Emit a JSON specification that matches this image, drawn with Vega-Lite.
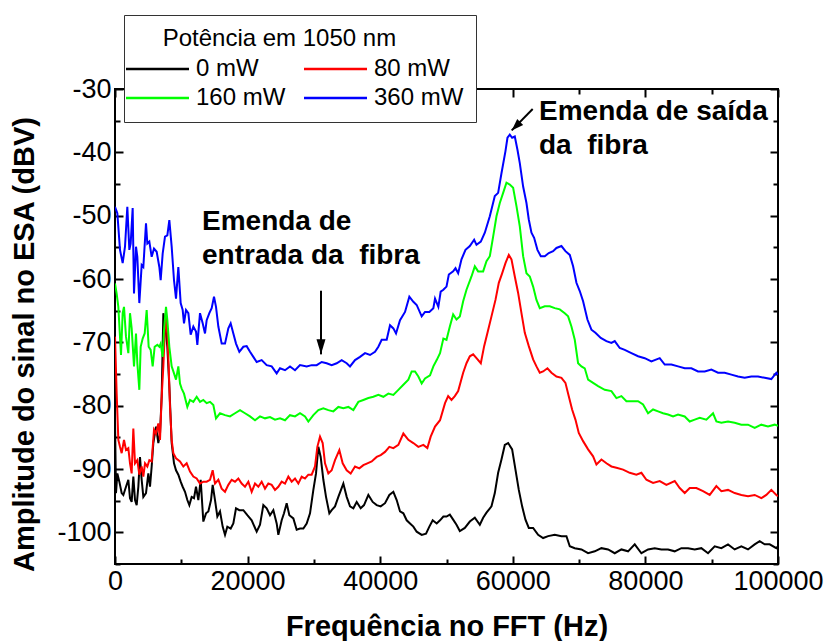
{
  "$schema": "https://vega.github.io/schema/vega-lite/v6.json",
  "width": 663,
  "height": 475,
  "autosize": {"type": "none"},
  "padding": {"left": 115, "top": 89, "right": 47, "bottom": 77},
  "background": "white",
  "config": {
    "font": "Liberation Sans",
    "view": {"stroke": "black", "strokeWidth": 2},
    "axis": {
      "domain": false, "grid": false, "tickColor": "black", "tickWidth": 2,
      "labelColor": "black", "labelFontSize": 27, "labelFont": "Liberation Sans",
      "titleFont": "Liberation Sans", "titleFontSize": 29, "titleFontWeight": "bold", "titleColor": "black",
      "labelFlush": false, "labelOverlap": false, "labelBound": false
    },
    "legend": {
      "labelFont": "Liberation Sans", "titleFont": "Liberation Sans",
      "labelFontSize": 24, "titleFontSize": 24, "titleFontWeight": "normal",
      "titleColor": "black", "labelColor": "black", "titleLimit": 1000, "labelLimit": 300
    }
  },
  "datasets": {
    "series": [
      {"s":"0 mW","f":0,"v":-82.3},{"s":"0 mW","f":151,"v":-93.8},{"s":"0 mW","f":352,"v":-90.7},{"s":"0 mW","f":654,"v":-92.0},{"s":"0 mW","f":1006,"v":-93.8},{"s":"0 mW","f":1257,"v":-94.1},{"s":"0 mW","f":1659,"v":-92.8},{"s":"0 mW","f":2011,"v":-91.7},{"s":"0 mW","f":2263,"v":-94.6},{"s":"0 mW","f":2514,"v":-95.2},{"s":"0 mW","f":2765,"v":-91.2},{"s":"0 mW","f":3017,"v":-94.9},{"s":"0 mW","f":3268,"v":-95.7},{"s":"0 mW","f":3520,"v":-92.8},{"s":"0 mW","f":3771,"v":-88.1},{"s":"0 mW","f":4022,"v":-91.7},{"s":"0 mW","f":4274,"v":-94.4},{"s":"0 mW","f":4676,"v":-93.8},{"s":"0 mW","f":5028,"v":-90.7},{"s":"0 mW","f":5279,"v":-92.8},{"s":"0 mW","f":5531,"v":-89.6},{"s":"0 mW","f":5782,"v":-85.9},{"s":"0 mW","f":6184,"v":-83.3},{"s":"0 mW","f":6536,"v":-85.9},{"s":"0 mW","f":6788,"v":-84.4},{"s":"0 mW","f":7039,"v":-78.6},{"s":"0 mW","f":7291,"v":-65.4},{"s":"0 mW","f":7542,"v":-67.0},{"s":"0 mW","f":7894,"v":-70.7},{"s":"0 mW","f":8196,"v":-77.0},{"s":"0 mW","f":8548,"v":-85.9},{"s":"0 mW","f":8900,"v":-89.1},{"s":"0 mW","f":9201,"v":-90.2},{"s":"0 mW","f":9553,"v":-90.9},{"s":"0 mW","f":9905,"v":-92.0},{"s":"0 mW","f":10207,"v":-92.8},{"s":"0 mW","f":10559,"v":-93.6},{"s":"0 mW","f":10911,"v":-94.9},{"s":"0 mW","f":11212,"v":-95.7},{"s":"0 mW","f":11564,"v":-94.4},{"s":"0 mW","f":11916,"v":-94.6},{"s":"0 mW","f":12218,"v":-92.8},{"s":"0 mW","f":12570,"v":-94.9},{"s":"0 mW","f":12922,"v":-91.7},{"s":"0 mW","f":13324,"v":-98.3},{"s":"0 mW","f":13726,"v":-97.0},{"s":"0 mW","f":14078,"v":-96.7},{"s":"0 mW","f":14481,"v":-94.9},{"s":"0 mW","f":14732,"v":-92.5},{"s":"0 mW","f":15084,"v":-94.9},{"s":"0 mW","f":15436,"v":-97.5},{"s":"0 mW","f":15838,"v":-96.7},{"s":"0 mW","f":16240,"v":-99.1},{"s":"0 mW","f":16592,"v":-100.4},{"s":"0 mW","f":16944,"v":-99.1},{"s":"0 mW","f":17447,"v":-99.4},{"s":"0 mW","f":17849,"v":-98.6},{"s":"0 mW","f":18252,"v":-96.2},{"s":"0 mW","f":18754,"v":-96.5},{"s":"0 mW","f":19358,"v":-96.5},{"s":"0 mW","f":19961,"v":-97.3},{"s":"0 mW","f":20615,"v":-98.1},{"s":"0 mW","f":21369,"v":-99.9},{"s":"0 mW","f":21872,"v":-98.8},{"s":"0 mW","f":22375,"v":-95.7},{"s":"0 mW","f":22877,"v":-96.2},{"s":"0 mW","f":23380,"v":-97.3},{"s":"0 mW","f":23883,"v":-96.5},{"s":"0 mW","f":24386,"v":-98.6},{"s":"0 mW","f":24637,"v":-100.4},{"s":"0 mW","f":25140,"v":-98.1},{"s":"0 mW","f":25492,"v":-97.0},{"s":"0 mW","f":25894,"v":-95.4},{"s":"0 mW","f":26296,"v":-97.3},{"s":"0 mW","f":26900,"v":-97.8},{"s":"0 mW","f":27403,"v":-99.6},{"s":"0 mW","f":27905,"v":-99.4},{"s":"0 mW","f":28408,"v":-99.4},{"s":"0 mW","f":28911,"v":-98.6},{"s":"0 mW","f":29414,"v":-97.0},{"s":"0 mW","f":29917,"v":-93.3},{"s":"0 mW","f":30319,"v":-90.7},{"s":"0 mW","f":30671,"v":-86.5},{"s":"0 mW","f":31023,"v":-88.1},{"s":"0 mW","f":31425,"v":-91.7},{"s":"0 mW","f":31827,"v":-94.4},{"s":"0 mW","f":32330,"v":-97.0},{"s":"0 mW","f":32682,"v":-96.5},{"s":"0 mW","f":33185,"v":-95.9},{"s":"0 mW","f":33688,"v":-94.4},{"s":"0 mW","f":34442,"v":-92.3},{"s":"0 mW","f":34945,"v":-94.4},{"s":"0 mW","f":35447,"v":-95.9},{"s":"0 mW","f":35950,"v":-96.2},{"s":"0 mW","f":36453,"v":-95.2},{"s":"0 mW","f":37056,"v":-96.2},{"s":"0 mW","f":37559,"v":-95.7},{"s":"0 mW","f":38213,"v":-94.1},{"s":"0 mW","f":38867,"v":-95.2},{"s":"0 mW","f":39470,"v":-95.7},{"s":"0 mW","f":40073,"v":-95.9},{"s":"0 mW","f":40727,"v":-95.4},{"s":"0 mW","f":41380,"v":-94.1},{"s":"0 mW","f":41984,"v":-93.6},{"s":"0 mW","f":42487,"v":-94.9},{"s":"0 mW","f":42989,"v":-96.7},{"s":"0 mW","f":43492,"v":-97.0},{"s":"0 mW","f":43995,"v":-98.1},{"s":"0 mW","f":44498,"v":-98.6},{"s":"0 mW","f":45001,"v":-99.1},{"s":"0 mW","f":45503,"v":-99.9},{"s":"0 mW","f":46258,"v":-100.4},{"s":"0 mW","f":46911,"v":-100.2},{"s":"0 mW","f":47414,"v":-99.1},{"s":"0 mW","f":47917,"v":-98.1},{"s":"0 mW","f":48520,"v":-98.6},{"s":"0 mW","f":49023,"v":-98.1},{"s":"0 mW","f":49526,"v":-97.5},{"s":"0 mW","f":50000,"v":-97.5},{"s":"0 mW","f":50503,"v":-97.2},{"s":"0 mW","f":51005,"v":-98.0},{"s":"0 mW","f":51508,"v":-98.8},{"s":"0 mW","f":52010,"v":-99.8},{"s":"0 mW","f":52764,"v":-99.3},{"s":"0 mW","f":53518,"v":-98.3},{"s":"0 mW","f":54271,"v":-97.7},{"s":"0 mW","f":55025,"v":-98.8},{"s":"0 mW","f":55528,"v":-97.7},{"s":"0 mW","f":56030,"v":-96.9},{"s":"0 mW","f":56784,"v":-95.9},{"s":"0 mW","f":57286,"v":-93.8},{"s":"0 mW","f":57789,"v":-90.6},{"s":"0 mW","f":58291,"v":-88.5},{"s":"0 mW","f":58794,"v":-86.2},{"s":"0 mW","f":59296,"v":-85.9},{"s":"0 mW","f":59899,"v":-86.9},{"s":"0 mW","f":60402,"v":-90.1},{"s":"0 mW","f":60904,"v":-93.3},{"s":"0 mW","f":61407,"v":-95.9},{"s":"0 mW","f":61910,"v":-98.0},{"s":"0 mW","f":62412,"v":-99.3},{"s":"0 mW","f":63065,"v":-99.3},{"s":"0 mW","f":63819,"v":-100.4},{"s":"0 mW","f":64573,"v":-100.9},{"s":"0 mW","f":65327,"v":-100.6},{"s":"0 mW","f":66331,"v":-100.4},{"s":"0 mW","f":67337,"v":-100.6},{"s":"0 mW","f":68090,"v":-100.6},{"s":"0 mW","f":68593,"v":-102.2},{"s":"0 mW","f":69346,"v":-102.5},{"s":"0 mW","f":70351,"v":-102.7},{"s":"0 mW","f":71356,"v":-103.3},{"s":"0 mW","f":72362,"v":-103.0},{"s":"0 mW","f":73367,"v":-102.5},{"s":"0 mW","f":74372,"v":-102.7},{"s":"0 mW","f":75377,"v":-103.3},{"s":"0 mW","f":76382,"v":-102.7},{"s":"0 mW","f":77387,"v":-103.0},{"s":"0 mW","f":78391,"v":-101.9},{"s":"0 mW","f":79396,"v":-103.3},{"s":"0 mW","f":80401,"v":-102.7},{"s":"0 mW","f":81406,"v":-102.5},{"s":"0 mW","f":82411,"v":-102.7},{"s":"0 mW","f":83416,"v":-102.7},{"s":"0 mW","f":84421,"v":-103.0},{"s":"0 mW","f":85426,"v":-102.5},{"s":"0 mW","f":86431,"v":-102.5},{"s":"0 mW","f":87436,"v":-102.7},{"s":"0 mW","f":88441,"v":-102.5},{"s":"0 mW","f":89446,"v":-103.3},{"s":"0 mW","f":90451,"v":-102.2},{"s":"0 mW","f":91456,"v":-102.5},{"s":"0 mW","f":92461,"v":-101.9},{"s":"0 mW","f":93466,"v":-102.7},{"s":"0 mW","f":94471,"v":-102.2},{"s":"0 mW","f":95476,"v":-102.7},{"s":"0 mW","f":96481,"v":-101.9},{"s":"0 mW","f":97235,"v":-101.4},{"s":"0 mW","f":97990,"v":-101.9},{"s":"0 mW","f":98744,"v":-101.9},{"s":"0 mW","f":99749,"v":-102.5},{"s":"0 mW","f":100000,"v":-102.2},
      {"s":"80 mW","f":0,"v":-69.1},{"s":"80 mW","f":251,"v":-78.1},{"s":"80 mW","f":503,"v":-85.4},{"s":"80 mW","f":754,"v":-86.5},{"s":"80 mW","f":1006,"v":-87.5},{"s":"80 mW","f":1358,"v":-85.4},{"s":"80 mW","f":1659,"v":-87.0},{"s":"80 mW","f":2011,"v":-86.7},{"s":"80 mW","f":2263,"v":-89.1},{"s":"80 mW","f":2514,"v":-90.7},{"s":"80 mW","f":2765,"v":-83.6},{"s":"80 mW","f":3017,"v":-89.1},{"s":"80 mW","f":3369,"v":-88.6},{"s":"80 mW","f":3670,"v":-90.9},{"s":"80 mW","f":4022,"v":-89.6},{"s":"80 mW","f":4274,"v":-91.2},{"s":"80 mW","f":4525,"v":-89.1},{"s":"80 mW","f":4877,"v":-89.6},{"s":"80 mW","f":5179,"v":-88.6},{"s":"80 mW","f":5531,"v":-88.8},{"s":"80 mW","f":5883,"v":-83.8},{"s":"80 mW","f":6184,"v":-84.4},{"s":"80 mW","f":6536,"v":-82.8},{"s":"80 mW","f":6788,"v":-85.4},{"s":"80 mW","f":7039,"v":-78.6},{"s":"80 mW","f":7291,"v":-73.8},{"s":"80 mW","f":7542,"v":-67.5},{"s":"80 mW","f":7693,"v":-65.9},{"s":"80 mW","f":7894,"v":-68.6},{"s":"80 mW","f":8095,"v":-73.8},{"s":"80 mW","f":8296,"v":-80.2},{"s":"80 mW","f":8548,"v":-85.4},{"s":"80 mW","f":8799,"v":-87.5},{"s":"80 mW","f":9201,"v":-88.3},{"s":"80 mW","f":9805,"v":-88.8},{"s":"80 mW","f":10308,"v":-89.6},{"s":"80 mW","f":10811,"v":-89.1},{"s":"80 mW","f":11313,"v":-90.4},{"s":"80 mW","f":11816,"v":-91.2},{"s":"80 mW","f":12319,"v":-91.5},{"s":"80 mW","f":12821,"v":-92.3},{"s":"80 mW","f":13324,"v":-92.0},{"s":"80 mW","f":13827,"v":-92.0},{"s":"80 mW","f":14330,"v":-91.7},{"s":"80 mW","f":14732,"v":-90.2},{"s":"80 mW","f":15084,"v":-92.3},{"s":"80 mW","f":15587,"v":-91.7},{"s":"80 mW","f":16090,"v":-93.1},{"s":"80 mW","f":16592,"v":-93.6},{"s":"80 mW","f":17095,"v":-92.5},{"s":"80 mW","f":17598,"v":-91.7},{"s":"80 mW","f":18101,"v":-92.0},{"s":"80 mW","f":18604,"v":-91.5},{"s":"80 mW","f":19106,"v":-92.3},{"s":"80 mW","f":19609,"v":-92.8},{"s":"80 mW","f":20112,"v":-92.0},{"s":"80 mW","f":20615,"v":-93.6},{"s":"80 mW","f":21118,"v":-92.3},{"s":"80 mW","f":21620,"v":-92.8},{"s":"80 mW","f":22123,"v":-92.0},{"s":"80 mW","f":22626,"v":-93.1},{"s":"80 mW","f":23129,"v":-92.3},{"s":"80 mW","f":23632,"v":-92.5},{"s":"80 mW","f":24134,"v":-93.3},{"s":"80 mW","f":24637,"v":-92.8},{"s":"80 mW","f":25140,"v":-92.0},{"s":"80 mW","f":25643,"v":-92.3},{"s":"80 mW","f":26146,"v":-91.2},{"s":"80 mW","f":26648,"v":-92.0},{"s":"80 mW","f":27151,"v":-91.5},{"s":"80 mW","f":27654,"v":-92.3},{"s":"80 mW","f":28157,"v":-91.2},{"s":"80 mW","f":28660,"v":-91.5},{"s":"80 mW","f":29162,"v":-90.9},{"s":"80 mW","f":29665,"v":-90.9},{"s":"80 mW","f":30168,"v":-89.6},{"s":"80 mW","f":30520,"v":-86.5},{"s":"80 mW","f":30922,"v":-84.9},{"s":"80 mW","f":31324,"v":-85.9},{"s":"80 mW","f":31676,"v":-89.1},{"s":"80 mW","f":32179,"v":-90.7},{"s":"80 mW","f":32682,"v":-90.2},{"s":"80 mW","f":33185,"v":-88.6},{"s":"80 mW","f":33838,"v":-87.0},{"s":"80 mW","f":34341,"v":-89.1},{"s":"80 mW","f":34945,"v":-90.2},{"s":"80 mW","f":35548,"v":-90.7},{"s":"80 mW","f":36202,"v":-89.6},{"s":"80 mW","f":36855,"v":-89.9},{"s":"80 mW","f":37459,"v":-89.4},{"s":"80 mW","f":38062,"v":-89.1},{"s":"80 mW","f":38716,"v":-88.8},{"s":"80 mW","f":39470,"v":-88.1},{"s":"80 mW","f":40073,"v":-87.8},{"s":"80 mW","f":40727,"v":-87.3},{"s":"80 mW","f":41380,"v":-86.5},{"s":"80 mW","f":41984,"v":-86.7},{"s":"80 mW","f":42738,"v":-86.2},{"s":"80 mW","f":43492,"v":-84.4},{"s":"80 mW","f":44246,"v":-85.4},{"s":"80 mW","f":45001,"v":-85.9},{"s":"80 mW","f":45755,"v":-86.5},{"s":"80 mW","f":46509,"v":-86.2},{"s":"80 mW","f":47112,"v":-86.7},{"s":"80 mW","f":47615,"v":-84.9},{"s":"80 mW","f":48269,"v":-83.3},{"s":"80 mW","f":49023,"v":-82.3},{"s":"80 mW","f":49777,"v":-79.6},{"s":"80 mW","f":50251,"v":-78.5},{"s":"80 mW","f":50754,"v":-79.1},{"s":"80 mW","f":51256,"v":-78.5},{"s":"80 mW","f":51759,"v":-77.7},{"s":"80 mW","f":52513,"v":-74.8},{"s":"80 mW","f":53015,"v":-73.3},{"s":"80 mW","f":53518,"v":-72.2},{"s":"80 mW","f":54020,"v":-71.9},{"s":"80 mW","f":54523,"v":-72.5},{"s":"80 mW","f":55176,"v":-73.3},{"s":"80 mW","f":55678,"v":-70.6},{"s":"80 mW","f":56181,"v":-68.5},{"s":"80 mW","f":56784,"v":-65.9},{"s":"80 mW","f":57387,"v":-63.3},{"s":"80 mW","f":57889,"v":-60.6},{"s":"80 mW","f":58392,"v":-59.1},{"s":"80 mW","f":58894,"v":-57.5},{"s":"80 mW","f":59397,"v":-56.2},{"s":"80 mW","f":59799,"v":-56.9},{"s":"80 mW","f":60301,"v":-59.6},{"s":"80 mW","f":60804,"v":-62.2},{"s":"80 mW","f":61306,"v":-65.4},{"s":"80 mW","f":61809,"v":-68.5},{"s":"80 mW","f":62412,"v":-70.6},{"s":"80 mW","f":63065,"v":-72.7},{"s":"80 mW","f":63568,"v":-73.8},{"s":"80 mW","f":64070,"v":-74.8},{"s":"80 mW","f":64573,"v":-74.6},{"s":"80 mW","f":65226,"v":-74.1},{"s":"80 mW","f":65829,"v":-74.8},{"s":"80 mW","f":66583,"v":-75.4},{"s":"80 mW","f":67337,"v":-75.6},{"s":"80 mW","f":67939,"v":-76.4},{"s":"80 mW","f":68442,"v":-78.5},{"s":"80 mW","f":68945,"v":-80.6},{"s":"80 mW","f":69447,"v":-82.2},{"s":"80 mW","f":69950,"v":-84.3},{"s":"80 mW","f":70603,"v":-85.6},{"s":"80 mW","f":71357,"v":-86.9},{"s":"80 mW","f":72110,"v":-88.0},{"s":"80 mW","f":72613,"v":-89.3},{"s":"80 mW","f":73367,"v":-88.5},{"s":"80 mW","f":74121,"v":-89.1},{"s":"80 mW","f":74874,"v":-89.6},{"s":"80 mW","f":75628,"v":-89.8},{"s":"80 mW","f":76633,"v":-90.1},{"s":"80 mW","f":77638,"v":-90.6},{"s":"80 mW","f":78643,"v":-90.9},{"s":"80 mW","f":79397,"v":-90.6},{"s":"80 mW","f":80151,"v":-91.7},{"s":"80 mW","f":81156,"v":-92.2},{"s":"80 mW","f":82161,"v":-91.9},{"s":"80 mW","f":83166,"v":-92.5},{"s":"80 mW","f":84422,"v":-91.9},{"s":"80 mW","f":85176,"v":-93.0},{"s":"80 mW","f":85930,"v":-93.8},{"s":"80 mW","f":86684,"v":-93.0},{"s":"80 mW","f":87689,"v":-93.0},{"s":"80 mW","f":88694,"v":-93.5},{"s":"80 mW","f":89698,"v":-94.1},{"s":"80 mW","f":90703,"v":-92.7},{"s":"80 mW","f":91457,"v":-93.5},{"s":"80 mW","f":92462,"v":-93.3},{"s":"80 mW","f":93467,"v":-93.8},{"s":"80 mW","f":94472,"v":-94.1},{"s":"80 mW","f":95477,"v":-94.3},{"s":"80 mW","f":96482,"v":-94.1},{"s":"80 mW","f":97487,"v":-94.6},{"s":"80 mW","f":98241,"v":-94.1},{"s":"80 mW","f":98995,"v":-93.3},{"s":"80 mW","f":99749,"v":-94.1},{"s":"80 mW","f":100000,"v":-94.3},
      {"s":"160 mW","f":0,"v":-60.7},{"s":"160 mW","f":251,"v":-62.3},{"s":"160 mW","f":503,"v":-64.4},{"s":"160 mW","f":905,"v":-72.0},{"s":"160 mW","f":1156,"v":-65.4},{"s":"160 mW","f":1358,"v":-64.4},{"s":"160 mW","f":1659,"v":-69.1},{"s":"160 mW","f":2011,"v":-71.7},{"s":"160 mW","f":2263,"v":-65.4},{"s":"160 mW","f":2514,"v":-67.8},{"s":"160 mW","f":2866,"v":-73.8},{"s":"160 mW","f":3168,"v":-68.6},{"s":"160 mW","f":3369,"v":-73.3},{"s":"160 mW","f":3670,"v":-77.5},{"s":"160 mW","f":3872,"v":-70.7},{"s":"160 mW","f":4173,"v":-69.4},{"s":"160 mW","f":4475,"v":-68.6},{"s":"160 mW","f":4777,"v":-64.9},{"s":"160 mW","f":5078,"v":-70.7},{"s":"160 mW","f":5380,"v":-71.2},{"s":"160 mW","f":5682,"v":-73.8},{"s":"160 mW","f":5983,"v":-70.7},{"s":"160 mW","f":6386,"v":-70.4},{"s":"160 mW","f":6687,"v":-70.7},{"s":"160 mW","f":6888,"v":-70.2},{"s":"160 mW","f":7190,"v":-72.3},{"s":"160 mW","f":7391,"v":-68.1},{"s":"160 mW","f":7693,"v":-64.4},{"s":"160 mW","f":7894,"v":-66.5},{"s":"160 mW","f":8196,"v":-70.7},{"s":"160 mW","f":8548,"v":-73.8},{"s":"160 mW","f":8900,"v":-74.9},{"s":"160 mW","f":9201,"v":-75.9},{"s":"160 mW","f":9553,"v":-73.8},{"s":"160 mW","f":9805,"v":-76.5},{"s":"160 mW","f":10056,"v":-77.3},{"s":"160 mW","f":10408,"v":-78.1},{"s":"160 mW","f":10911,"v":-80.2},{"s":"160 mW","f":11313,"v":-79.1},{"s":"160 mW","f":11816,"v":-79.4},{"s":"160 mW","f":12319,"v":-78.6},{"s":"160 mW","f":12821,"v":-79.4},{"s":"160 mW","f":13324,"v":-79.1},{"s":"160 mW","f":13827,"v":-79.6},{"s":"160 mW","f":14330,"v":-79.4},{"s":"160 mW","f":14833,"v":-79.9},{"s":"160 mW","f":15235,"v":-82.0},{"s":"160 mW","f":15838,"v":-81.2},{"s":"160 mW","f":16592,"v":-81.5},{"s":"160 mW","f":17347,"v":-81.7},{"s":"160 mW","f":18101,"v":-81.2},{"s":"160 mW","f":18855,"v":-80.7},{"s":"160 mW","f":19609,"v":-81.2},{"s":"160 mW","f":20363,"v":-81.7},{"s":"160 mW","f":21118,"v":-82.3},{"s":"160 mW","f":21872,"v":-81.7},{"s":"160 mW","f":22626,"v":-82.0},{"s":"160 mW","f":23380,"v":-81.8},{"s":"160 mW","f":24134,"v":-82.2},{"s":"160 mW","f":24889,"v":-82.0},{"s":"160 mW","f":25643,"v":-82.3},{"s":"160 mW","f":26397,"v":-81.5},{"s":"160 mW","f":27151,"v":-81.7},{"s":"160 mW","f":27905,"v":-81.2},{"s":"160 mW","f":28660,"v":-81.7},{"s":"160 mW","f":29162,"v":-82.5},{"s":"160 mW","f":29917,"v":-81.5},{"s":"160 mW","f":30671,"v":-80.7},{"s":"160 mW","f":31425,"v":-80.4},{"s":"160 mW","f":32179,"v":-80.7},{"s":"160 mW","f":32933,"v":-80.9},{"s":"160 mW","f":33688,"v":-80.2},{"s":"160 mW","f":34442,"v":-80.4},{"s":"160 mW","f":35196,"v":-80.2},{"s":"160 mW","f":35950,"v":-80.7},{"s":"160 mW","f":36704,"v":-79.4},{"s":"160 mW","f":37459,"v":-79.1},{"s":"160 mW","f":38213,"v":-78.8},{"s":"160 mW","f":38967,"v":-78.6},{"s":"160 mW","f":39721,"v":-78.3},{"s":"160 mW","f":40475,"v":-78.6},{"s":"160 mW","f":41230,"v":-78.1},{"s":"160 mW","f":41984,"v":-78.3},{"s":"160 mW","f":42738,"v":-77.5},{"s":"160 mW","f":43492,"v":-76.7},{"s":"160 mW","f":44246,"v":-75.9},{"s":"160 mW","f":44749,"v":-74.6},{"s":"160 mW","f":45252,"v":-74.6},{"s":"160 mW","f":45755,"v":-75.4},{"s":"160 mW","f":46258,"v":-76.5},{"s":"160 mW","f":46760,"v":-75.7},{"s":"160 mW","f":47515,"v":-75.2},{"s":"160 mW","f":48017,"v":-73.8},{"s":"160 mW","f":48520,"v":-72.8},{"s":"160 mW","f":49023,"v":-71.7},{"s":"160 mW","f":49526,"v":-69.4},{"s":"160 mW","f":50000,"v":-69.6},{"s":"160 mW","f":50503,"v":-67.5},{"s":"160 mW","f":51005,"v":-65.6},{"s":"160 mW","f":51508,"v":-66.4},{"s":"160 mW","f":52010,"v":-65.9},{"s":"160 mW","f":52513,"v":-63.5},{"s":"160 mW","f":53015,"v":-61.7},{"s":"160 mW","f":53769,"v":-59.6},{"s":"160 mW","f":54271,"v":-58.0},{"s":"160 mW","f":54774,"v":-58.8},{"s":"160 mW","f":55528,"v":-58.8},{"s":"160 mW","f":56030,"v":-57.2},{"s":"160 mW","f":56533,"v":-56.4},{"s":"160 mW","f":57035,"v":-53.3},{"s":"160 mW","f":57538,"v":-50.1},{"s":"160 mW","f":58040,"v":-48.0},{"s":"160 mW","f":58543,"v":-46.4},{"s":"160 mW","f":59045,"v":-44.8},{"s":"160 mW","f":59548,"v":-45.1},{"s":"160 mW","f":60050,"v":-45.6},{"s":"160 mW","f":60553,"v":-48.5},{"s":"160 mW","f":61055,"v":-51.7},{"s":"160 mW","f":61558,"v":-56.4},{"s":"160 mW","f":62060,"v":-59.1},{"s":"160 mW","f":62563,"v":-59.6},{"s":"160 mW","f":63065,"v":-61.2},{"s":"160 mW","f":63568,"v":-63.3},{"s":"160 mW","f":64070,"v":-64.6},{"s":"160 mW","f":64824,"v":-64.3},{"s":"160 mW","f":65578,"v":-64.3},{"s":"160 mW","f":66331,"v":-64.6},{"s":"160 mW","f":67085,"v":-64.8},{"s":"160 mW","f":67839,"v":-65.4},{"s":"160 mW","f":68341,"v":-65.9},{"s":"160 mW","f":68844,"v":-67.5},{"s":"160 mW","f":69346,"v":-69.6},{"s":"160 mW","f":69849,"v":-73.3},{"s":"160 mW","f":70351,"v":-73.8},{"s":"160 mW","f":70854,"v":-74.1},{"s":"160 mW","f":71356,"v":-75.9},{"s":"160 mW","f":72110,"v":-76.4},{"s":"160 mW","f":72864,"v":-76.9},{"s":"160 mW","f":73869,"v":-77.5},{"s":"160 mW","f":74874,"v":-77.7},{"s":"160 mW","f":75628,"v":-78.8},{"s":"160 mW","f":76381,"v":-78.5},{"s":"160 mW","f":77135,"v":-79.3},{"s":"160 mW","f":78140,"v":-79.3},{"s":"160 mW","f":78894,"v":-79.3},{"s":"160 mW","f":79648,"v":-79.8},{"s":"160 mW","f":80401,"v":-81.2},{"s":"160 mW","f":81155,"v":-80.6},{"s":"160 mW","f":81909,"v":-80.9},{"s":"160 mW","f":82663,"v":-81.2},{"s":"160 mW","f":83416,"v":-81.4},{"s":"160 mW","f":84170,"v":-81.7},{"s":"160 mW","f":84924,"v":-81.4},{"s":"160 mW","f":85930,"v":-81.7},{"s":"160 mW","f":86683,"v":-82.5},{"s":"160 mW","f":87437,"v":-82.2},{"s":"160 mW","f":88191,"v":-81.9},{"s":"160 mW","f":89196,"v":-82.2},{"s":"160 mW","f":90201,"v":-81.2},{"s":"160 mW","f":90704,"v":-82.5},{"s":"160 mW","f":91457,"v":-82.7},{"s":"160 mW","f":92462,"v":-82.5},{"s":"160 mW","f":93467,"v":-82.7},{"s":"160 mW","f":94472,"v":-83.0},{"s":"160 mW","f":95477,"v":-83.0},{"s":"160 mW","f":96482,"v":-83.5},{"s":"160 mW","f":97487,"v":-83.0},{"s":"160 mW","f":98492,"v":-83.3},{"s":"160 mW","f":99497,"v":-83.0},{"s":"160 mW","f":100000,"v":-83.2},
      {"s":"360 mW","f":0,"v":-48.6},{"s":"360 mW","f":352,"v":-49.6},{"s":"360 mW","f":754,"v":-55.4},{"s":"360 mW","f":1156,"v":-57.5},{"s":"360 mW","f":1508,"v":-54.9},{"s":"360 mW","f":1860,"v":-48.6},{"s":"360 mW","f":2162,"v":-55.4},{"s":"360 mW","f":2363,"v":-54.4},{"s":"360 mW","f":2665,"v":-48.8},{"s":"360 mW","f":2866,"v":-62.3},{"s":"360 mW","f":3168,"v":-54.9},{"s":"360 mW","f":3369,"v":-56.5},{"s":"360 mW","f":3670,"v":-63.8},{"s":"360 mW","f":4022,"v":-57.8},{"s":"360 mW","f":4274,"v":-58.1},{"s":"360 mW","f":4676,"v":-51.2},{"s":"360 mW","f":4877,"v":-54.4},{"s":"360 mW","f":5179,"v":-54.1},{"s":"360 mW","f":5531,"v":-56.5},{"s":"360 mW","f":5883,"v":-55.2},{"s":"360 mW","f":6285,"v":-55.7},{"s":"360 mW","f":6687,"v":-58.1},{"s":"360 mW","f":6888,"v":-60.2},{"s":"360 mW","f":7190,"v":-56.0},{"s":"360 mW","f":7542,"v":-53.3},{"s":"360 mW","f":7894,"v":-53.1},{"s":"360 mW","f":8196,"v":-50.7},{"s":"360 mW","f":8548,"v":-54.9},{"s":"360 mW","f":8900,"v":-60.2},{"s":"360 mW","f":9201,"v":-63.1},{"s":"360 mW","f":9553,"v":-58.1},{"s":"360 mW","f":9905,"v":-63.8},{"s":"360 mW","f":10207,"v":-64.9},{"s":"360 mW","f":10408,"v":-67.0},{"s":"360 mW","f":10710,"v":-64.9},{"s":"360 mW","f":11062,"v":-65.4},{"s":"360 mW","f":11414,"v":-68.8},{"s":"360 mW","f":11816,"v":-67.5},{"s":"360 mW","f":12218,"v":-68.3},{"s":"360 mW","f":12419,"v":-70.4},{"s":"360 mW","f":12821,"v":-65.4},{"s":"360 mW","f":13224,"v":-67.0},{"s":"360 mW","f":13576,"v":-68.6},{"s":"360 mW","f":13827,"v":-66.5},{"s":"360 mW","f":14229,"v":-65.4},{"s":"360 mW","f":14581,"v":-64.6},{"s":"360 mW","f":14933,"v":-62.8},{"s":"360 mW","f":15235,"v":-64.4},{"s":"360 mW","f":15587,"v":-67.5},{"s":"360 mW","f":16090,"v":-70.2},{"s":"360 mW","f":16592,"v":-70.2},{"s":"360 mW","f":17095,"v":-67.8},{"s":"360 mW","f":17447,"v":-67.0},{"s":"360 mW","f":17849,"v":-68.6},{"s":"360 mW","f":18252,"v":-70.2},{"s":"360 mW","f":18754,"v":-71.5},{"s":"360 mW","f":19358,"v":-70.7},{"s":"360 mW","f":19861,"v":-70.6},{"s":"360 mW","f":20363,"v":-71.5},{"s":"360 mW","f":20866,"v":-72.3},{"s":"360 mW","f":21369,"v":-73.1},{"s":"360 mW","f":22123,"v":-72.8},{"s":"360 mW","f":22877,"v":-73.6},{"s":"360 mW","f":23632,"v":-73.8},{"s":"360 mW","f":24386,"v":-74.9},{"s":"360 mW","f":24889,"v":-74.1},{"s":"360 mW","f":25643,"v":-74.4},{"s":"360 mW","f":26397,"v":-73.8},{"s":"360 mW","f":27151,"v":-74.4},{"s":"360 mW","f":27905,"v":-73.6},{"s":"360 mW","f":28911,"v":-73.8},{"s":"360 mW","f":29665,"v":-73.6},{"s":"360 mW","f":30419,"v":-73.6},{"s":"360 mW","f":31174,"v":-73.1},{"s":"360 mW","f":31928,"v":-73.3},{"s":"360 mW","f":32682,"v":-73.6},{"s":"360 mW","f":33436,"v":-73.3},{"s":"360 mW","f":34190,"v":-72.8},{"s":"360 mW","f":34945,"v":-73.3},{"s":"360 mW","f":35447,"v":-73.8},{"s":"360 mW","f":36202,"v":-72.8},{"s":"360 mW","f":36956,"v":-72.3},{"s":"360 mW","f":37710,"v":-71.7},{"s":"360 mW","f":38464,"v":-72.0},{"s":"360 mW","f":39218,"v":-71.5},{"s":"360 mW","f":39721,"v":-70.7},{"s":"360 mW","f":40224,"v":-69.6},{"s":"360 mW","f":40978,"v":-69.6},{"s":"360 mW","f":41481,"v":-67.3},{"s":"360 mW","f":41984,"v":-67.8},{"s":"360 mW","f":42386,"v":-68.6},{"s":"360 mW","f":42989,"v":-66.5},{"s":"360 mW","f":43744,"v":-65.2},{"s":"360 mW","f":44397,"v":-62.8},{"s":"360 mW","f":45001,"v":-63.6},{"s":"360 mW","f":45503,"v":-64.1},{"s":"360 mW","f":46258,"v":-65.9},{"s":"360 mW","f":46760,"v":-65.2},{"s":"360 mW","f":47414,"v":-65.2},{"s":"360 mW","f":48017,"v":-64.6},{"s":"360 mW","f":48269,"v":-63.1},{"s":"360 mW","f":48772,"v":-64.4},{"s":"360 mW","f":49124,"v":-62.0},{"s":"360 mW","f":49526,"v":-61.7},{"s":"360 mW","f":50000,"v":-61.2},{"s":"360 mW","f":50352,"v":-59.3},{"s":"360 mW","f":51005,"v":-58.8},{"s":"360 mW","f":51357,"v":-58.3},{"s":"360 mW","f":51759,"v":-59.1},{"s":"360 mW","f":52261,"v":-56.9},{"s":"360 mW","f":52864,"v":-55.4},{"s":"360 mW","f":53518,"v":-54.8},{"s":"360 mW","f":54171,"v":-53.8},{"s":"360 mW","f":54523,"v":-54.6},{"s":"360 mW","f":55176,"v":-54.1},{"s":"360 mW","f":55779,"v":-52.7},{"s":"360 mW","f":56533,"v":-50.1},{"s":"360 mW","f":57286,"v":-46.9},{"s":"360 mW","f":57789,"v":-46.4},{"s":"360 mW","f":58291,"v":-43.3},{"s":"360 mW","f":58894,"v":-39.8},{"s":"360 mW","f":59196,"v":-37.7},{"s":"360 mW","f":59548,"v":-37.2},{"s":"360 mW","f":59899,"v":-37.7},{"s":"360 mW","f":60301,"v":-37.5},{"s":"360 mW","f":60703,"v":-39.6},{"s":"360 mW","f":61055,"v":-41.7},{"s":"360 mW","f":61558,"v":-45.4},{"s":"360 mW","f":62060,"v":-48.0},{"s":"360 mW","f":62412,"v":-50.6},{"s":"360 mW","f":62814,"v":-52.7},{"s":"360 mW","f":63216,"v":-53.5},{"s":"360 mW","f":63718,"v":-55.4},{"s":"360 mW","f":64221,"v":-56.4},{"s":"360 mW","f":64824,"v":-56.4},{"s":"360 mW","f":65427,"v":-55.9},{"s":"360 mW","f":66080,"v":-55.6},{"s":"360 mW","f":66583,"v":-55.1},{"s":"360 mW","f":67336,"v":-54.8},{"s":"360 mW","f":67939,"v":-55.6},{"s":"360 mW","f":68593,"v":-56.2},{"s":"360 mW","f":69095,"v":-58.0},{"s":"360 mW","f":69598,"v":-60.6},{"s":"360 mW","f":70100,"v":-61.9},{"s":"360 mW","f":70603,"v":-63.5},{"s":"360 mW","f":71256,"v":-66.4},{"s":"360 mW","f":71859,"v":-68.0},{"s":"360 mW","f":72462,"v":-68.5},{"s":"360 mW","f":73266,"v":-69.3},{"s":"360 mW","f":74120,"v":-69.8},{"s":"360 mW","f":74874,"v":-70.1},{"s":"360 mW","f":75377,"v":-69.8},{"s":"360 mW","f":76130,"v":-70.9},{"s":"360 mW","f":76884,"v":-71.2},{"s":"360 mW","f":77889,"v":-71.7},{"s":"360 mW","f":78894,"v":-72.2},{"s":"360 mW","f":79899,"v":-72.5},{"s":"360 mW","f":80904,"v":-73.0},{"s":"360 mW","f":82160,"v":-72.5},{"s":"360 mW","f":82914,"v":-73.5},{"s":"360 mW","f":83920,"v":-73.5},{"s":"360 mW","f":84925,"v":-73.8},{"s":"360 mW","f":85930,"v":-74.1},{"s":"360 mW","f":86935,"v":-74.1},{"s":"360 mW","f":87940,"v":-74.6},{"s":"360 mW","f":88945,"v":-74.6},{"s":"360 mW","f":89950,"v":-74.3},{"s":"360 mW","f":90955,"v":-74.8},{"s":"360 mW","f":91960,"v":-74.8},{"s":"360 mW","f":92965,"v":-75.1},{"s":"360 mW","f":93970,"v":-75.4},{"s":"360 mW","f":94975,"v":-75.6},{"s":"360 mW","f":95980,"v":-75.4},{"s":"360 mW","f":96985,"v":-75.4},{"s":"360 mW","f":97990,"v":-75.6},{"s":"360 mW","f":98995,"v":-75.8},{"s":"360 mW","f":99749,"v":-74.8},{"s":"360 mW","f":100000,"v":-75.1}
    ],
    "notes": [
      {"f": 13120, "v": -52.2, "t": "Emenda de\nentrada da\u00a0 fibra"},
      {"f": 63950, "v": -34.85, "t": "Emenda de saída\nda\u00a0 fibra"}
    ],
    "arrows": [
      {"id": "entrada", "f": 31070, "v": -61.85, "f2": 31070, "v2": -71.9},
      {"id": "saida", "f": 63000, "v": -33.16, "f2": 59834, "v2": -36.54}
    ]
  },
  "layer": [
    {
      "data": {"name": "series"},
      "mark": {"type": "line", "strokeWidth": 2, "clip": true},
      "encoding": {
        "x": {
          "field": "f", "type": "quantitative",
          "scale": {"domain": [0, 100000], "nice": false},
          "axis": {
            "orient": "bottom", "title": "Frequência no FFT (Hz)",
            "values": [0,10000,20000,30000,40000,50000,60000,70000,80000,90000,100000],
            "labelExpr": "datum.value % 20000 === 0 ? '' + datum.value : ''",
            "tickSize": {"condition": {"test": "datum.value % 20000 === 0", "value": -8}, "value": -5},
            "labelPadding": 12, "titlePadding": 15
          }
        },
        "y": {
          "field": "v", "type": "quantitative",
          "scale": {"domain": [-105, -30], "nice": false, "zero": false},
          "axis": {
            "orient": "left", "title": "Amplitude do sinal no ESA (dBV)",
            "values": [-105,-100,-95,-90,-85,-80,-75,-70,-65,-60,-55,-50,-45,-40,-35,-30],
            "labelExpr": "datum.value % 10 === 0 ? '' + datum.value : ''",
            "tickSize": {"condition": {"test": "datum.value % 10 === 0", "value": -8}, "value": -5},
            "labelPadding": 12, "titlePadding": 17, "titleY": 255
          }
        },
        "color": {
          "field": "s", "type": "nominal",
          "scale": {"domain": ["0 mW", "160 mW", "80 mW", "360 mW"], "range": ["#000000", "#00ff00", "#ff0000", "#0000ff"]},
          "legend": {
            "title": "\u200b\u00a0\u00a0\u00a0\u00a0Potência em 1050 nm\u00a0\u00a0\u00a0\u00a0\u00a0\u00a0\u00a0\u00a0\u00a0\u00a0\u200b",
            "orient": "none", "legendX": 9, "legendY": -74,
            "columns": 2, "columnPadding": 13, "rowPadding": 5,
            "symbolType": "M-5.5,0H10.25", "symbolSize": 64, "symbolStrokeWidth": 2.5,
            "labelOffset": 36, "padding": 12, "titlePadding": 6,
            "strokeColor": "#333333", "fillColor": "white"
          }
        }
      }
    },
    {
      "data": {"name": "notes"},
      "mark": {"type": "text", "font": "Liberation Sans", "fontSize": 28, "fontWeight": "bold", "align": "left", "baseline": "alphabetic", "lineBreak": "\n", "lineHeight": 34, "color": "black"},
      "encoding": {
        "x": {"field": "f", "type": "quantitative", "axis": {"orient": "top", "labels": false, "title": null,
          "values": [0,10000,20000,30000,40000,50000,60000,70000,80000,90000,100000],
          "tickSize": {"condition": {"test": "datum.value % 20000 === 0", "value": -8}, "value": -5}}},
        "y": {"field": "v", "type": "quantitative", "axis": {"orient": "right", "labels": false, "title": null,
          "values": [-105,-100,-95,-90,-85,-80,-75,-70,-65,-60,-55,-50,-45,-40,-35,-30],
          "tickSize": {"condition": {"test": "datum.value % 10 === 0", "value": -8}, "value": -5}}},
        "text": {"field": "t"}
      }
    },
    {
      "data": {"name": "arrows"},
      "mark": {"type": "rule", "color": "black", "strokeWidth": 2},
      "encoding": {
        "x": {"field": "f", "type": "quantitative", "axis": null},
        "y": {"field": "v", "type": "quantitative", "axis": null},
        "x2": {"field": "f2"},
        "y2": {"field": "v2"}
      }
    },
    {
      "data": {"name": "arrows"},
      "transform": [{"filter": "datum.id === 'entrada'"}],
      "mark": {"type": "point", "shape": "M-0.3,-1L0.3,-1L0,0Z", "filled": true, "color": "black", "opacity": 1, "size": 900, "angle": 0},
      "encoding": {
        "x": {"field": "f2", "type": "quantitative", "axis": null},
        "y": {"field": "v2", "type": "quantitative", "axis": null}
      }
    },
    {
      "data": {"name": "arrows"},
      "transform": [{"filter": "datum.id === 'saida'"}],
      "mark": {"type": "point", "shape": "M-0.35,-1L0.35,-1L0,0Z", "filled": true, "color": "black", "opacity": 1, "size": 576, "angle": 45},
      "encoding": {
        "x": {"field": "f2", "type": "quantitative", "axis": null},
        "y": {"field": "v2", "type": "quantitative", "axis": null}
      }
    }
  ],
  "resolve": {"axis": {"x": "independent", "y": "independent"}}
}
